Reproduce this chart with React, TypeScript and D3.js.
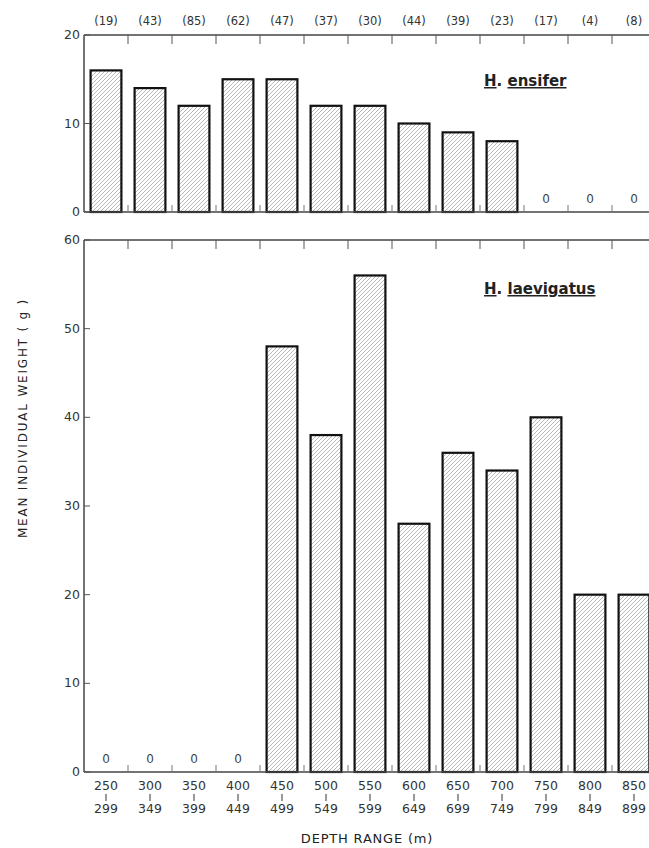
import React from "react";
import * as d3 from "d3";

const lowerBounds = ["250", "300", "350", "400", "450", "500", "550", "600", "650", "700", "750", "800", "850"];
const upperBounds = ["299", "349", "399", "449", "499", "549", "599", "649", "699", "749", "799", "849", "899"];
const sampleCounts = ["(19)", "(43)", "(85)", "(62)", "(47)", "(37)", "(30)", "(44)", "(39)", "(23)", "(17)", "(4)", "(8)"];
const ensiferWeights = [16, 14, 12, 15, 15, 12, 12, 10, 9, 8, 0, 0, 0];
const laevigatusWeights = [0, 0, 0, 0, 48, 38, 56, 28, 36, 34, 40, 20, 20];
const ensiferTicks = [0, 10, 20];
const laevigatusTicks = [0, 10, 20, 30, 40, 50, 60];

const W = 649;
const H = 848;
const left = 84;
const right = 656;
const font = "'DejaVu Sans', Verdana, sans-serif";

export default function App() {
  const x = d3.scaleBand<string>().domain(lowerBounds).range([left, right]).paddingInner(0.3).paddingOuter(0.15);
  const step = x.step();
  const yTop = d3.scaleLinear().domain([0, 20]).range([212, 35]);
  const yBot = d3.scaleLinear().domain([0, 60]).range([772, 240]);

  const panel = (
    key: string,
    data: number[],
    y: d3.ScaleLinear<number, number>,
    ticks: number[],
    name: [string, string],
    labelY: number,
    dashed: boolean
  ) => {
    const [y0, y1] = y.range();
    return (
      <g key={key}>
        {data.map((v, i) =>
          v > 0 ? (
            <rect
              key={i}
              x={x(lowerBounds[i])}
              y={y(v)}
              width={x.bandwidth()}
              height={y0 - y(v)}
              fill="url(#hatch)"
              stroke="#111"
              strokeWidth={2.2}
            />
          ) : (
            <text
              key={i}
              x={(x(lowerBounds[i]) as number) + x.bandwidth() / 2}
              y={y0 - 9}
              textAnchor="middle"
              fontSize={12}
              fontFamily={font}
              fill="#444"
            >
              0
            </text>
          )
        )}
        <line x1={left} x2={right} y1={y0} y2={y0} stroke="#444" strokeWidth={1.5} />
        <line x1={left} x2={right} y1={y1} y2={y1} stroke="#444" strokeWidth={1.5} />
        <line x1={left} x2={left} y1={y0} y2={y1} stroke="#444" strokeWidth={1.5} />
        <line x1={right} x2={right} y1={y0} y2={y1} stroke="#444" strokeWidth={1.5} />
        {lowerBounds.slice(1).map((c, i) => {
          const bx = (x(c) as number) - step * 0.15;
          return (
            <g key={"t" + i}>
              <line x1={bx} x2={bx} y1={y0} y2={y0 - 7} stroke="#777" strokeWidth={1} />
              <line x1={bx} x2={bx} y1={y1} y2={y1 + 9} stroke="#555" strokeWidth={1} />
            </g>
          );
        })}
        {ticks.map((t) => (
          <g key={"y" + t}>
            <line x1={left} x2={left + 6} y1={y(t)} y2={y(t)} stroke="#555" strokeWidth={1} />
            <line x1={right} x2={right - 7} y1={y(t)} y2={y(t)} stroke="#555" strokeWidth={1} />
            <text
              x={left - 4}
              y={y(t) + 4}
              textAnchor="end"
              fontSize={12.5}
              fontFamily={font}
              fill="#333"
            >
              {t}
            </text>
          </g>
        ))}
        <text x={484} y={labelY} fontSize={15} fontWeight="bold" fontFamily={font} fill="#222">
          <tspan style={{ textDecoration: "underline", textDecorationStyle: dashed ? "dashed" : "solid" } as any}>{name[0]}</tspan>
          <tspan>. </tspan>
          <tspan style={{ textDecoration: "underline", textDecorationStyle: dashed ? "dashed" : "solid" } as any}>{name[1]}</tspan>
        </text>
      </g>
    );
  };

  return (
    <svg width={W} height={H} style={{ position: "absolute", left: 0, top: 0, background: "#fff" }}>
      <defs>
        <pattern id="hatch" patternUnits="userSpaceOnUse" width={4} height={4}>
          <rect width={4} height={4} fill="#fff" />
          <path d="M-1,1 l2,-2 M0,4 l4,-4 M3,5 l2,-2" stroke="#888" strokeWidth={0.6} />
        </pattern>
      </defs>
      {sampleCounts.map((s, i) => (
        <text
          key={i}
          x={(x(lowerBounds[i]) as number) + x.bandwidth() / 2}
          y={25}
          textAnchor="middle"
          fontSize={11.5}
          fontFamily={font}
          fill="#333"
        >
          {s}
        </text>
      ))}
      {panel("top", ensiferWeights, yTop, ensiferTicks, ["H", "ensifer"], 86, false)}
      {panel("bot", laevigatusWeights, yBot, laevigatusTicks, ["H", "laevigatus"], 294, true)}
      {lowerBounds.map((c, i) => {
        const cx = (x(c) as number) + x.bandwidth() / 2;
        return (
          <g key={"x" + i}>
            <text x={cx} y={790} textAnchor="middle" fontSize={12.5} fontFamily={font} fill="#333">
              {c}
            </text>
            <line x1={cx} x2={cx} y1={794} y2={801} stroke="#333" strokeWidth={1} />
            <text x={cx} y={813} textAnchor="middle" fontSize={12.5} fontFamily={font} fill="#333">
              {upperBounds[i]}
            </text>
          </g>
        );
      })}
      <text x={367} y={843} textAnchor="middle" fontSize={13} fontFamily={font} fill="#222" letterSpacing={0.8}>
        DEPTH RANGE (m)
      </text>
      <text
        transform="translate(27,418) rotate(-90)"
        textAnchor="middle"
        fontSize={12}
        fontFamily={font}
        fill="#222"
        letterSpacing={1.8}
      >
        MEAN INDIVIDUAL WEIGHT ( g )
      </text>
    </svg>
  );
}
